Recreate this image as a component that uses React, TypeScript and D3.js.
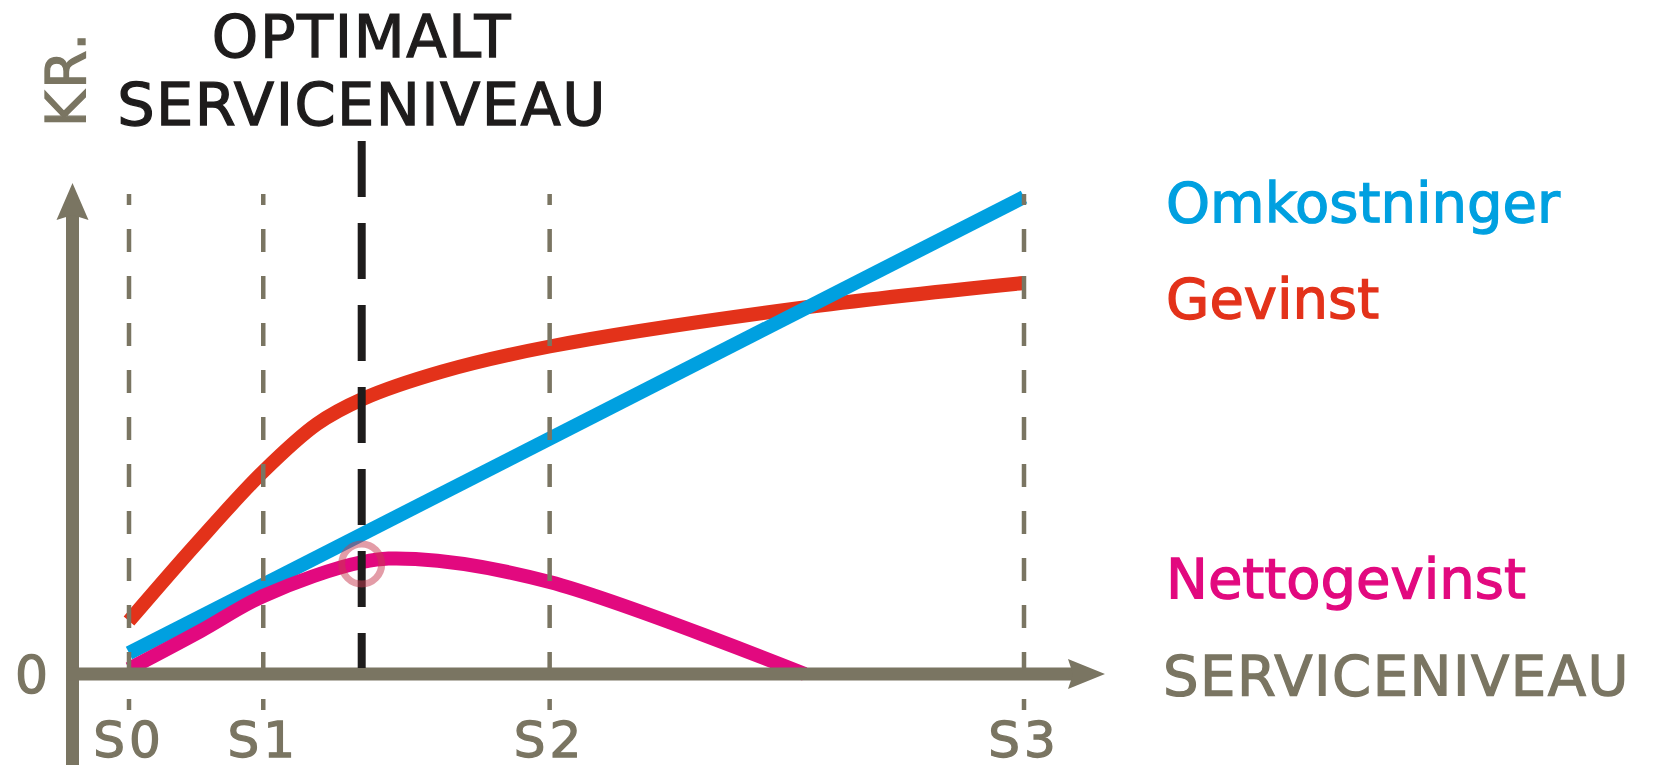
import React from "react";
import * as d3 from "d3";

// ---- data ----
const xTickLabels = ["S0", "S1", "S2", "S3"];
const xTickValues = [0, 1.5, 4.7, 10];
const optimumX = 2.6;
const optimumY = 2.2;

const omkostningerX = [0, 10];
const omkostningerY = [0.42, 9.54];

const gevinstX = [0, 0.75, 1.5, 2.1, 2.61, 3.5, 4.7, 7.5, 10];
const gevinstY = [1.06, 2.6, 4.05, 5.0, 5.5, 6.05, 6.55, 7.32, 7.82];

const nettoX = [0, 0.8, 1.5, 2.61, 3.2, 4.7, 7.55];
const nettoY = [0.1, 0.86, 1.56, 2.24, 2.3, 1.84, 0];

const legendLabels = ["Omkostninger", "Gevinst", "Nettogevinst"];
const legendValues = [9.45, 7.52, 1.92];

const W = 1661;
const H = 768;
const GRAY = "#7a7562";
const BLUE = "#00a0e0";
const RED = "#e3321a";
const MAGENTA = "#e2097f";
const DARK = "#1e1c1c";
const FONT = "'DejaVu Sans', sans-serif";

export default function App() {
  const x = d3.scaleLinear().domain([0, 10]).range([129, 1024]);
  const y = d3.scaleLinear().domain([0, 10]).range([674, 174]);

  const line = d3
    .line<[number, number]>()
    .x((d) => x(d[0]))
    .y((d) => y(d[1]))
    .curve(d3.curveCatmullRom.alpha(0.5));
  const straight = d3
    .line<[number, number]>()
    .x((d) => x(d[0]))
    .y((d) => y(d[1]));

  const zip = (a: number[], b: number[]) => a.map((v, i) => [v, b[i]] as [number, number]);

  const legendColors = [BLUE, RED, MAGENTA];

  const axisY = y(0);
  const axisX0 = 72.5;
  const bold = (c: string) => ({ fill: c, stroke: c, strokeWidth: 1.3 });

  return (
    <svg
      width={W}
      height={H}
      style={{ position: "absolute", left: 0, top: 0, background: "#fff" }}
      fontFamily={FONT}
    >
      {/* curves */}
      <path d={line(zip(gevinstX, gevinstY)) || ""} fill="none" stroke={RED} strokeWidth={14} />
      <path d={straight(zip(omkostningerX, omkostningerY)) || ""} fill="none" stroke={BLUE} strokeWidth={14} />
      <path d={line(zip(nettoX, nettoY)) || ""} fill="none" stroke={MAGENTA} strokeWidth={14} />

      {/* dashed gridlines */}
      {xTickValues.map((v, i) => (
        <line
          key={"g" + i}
          x1={x(v)}
          x2={x(v)}
          y1={y(9.6)}
          y2={y(-0.72)}
          stroke={GRAY}
          strokeWidth={4.5}
          strokeDasharray="23 24"
          strokeDashoffset={12}
        />
      ))}

      {/* axes */}
      <line x1={axisX0} x2={axisX0} y1={765} y2={212} stroke={GRAY} strokeWidth={13} />
      <path d={`M${axisX0},183 L${axisX0 + 16},220 L${axisX0},215 L${axisX0 - 16},220 Z`} fill={GRAY} />
      <line x1={66} x2={1075} y1={axisY} y2={axisY} stroke={GRAY} strokeWidth={13} />
      <path d={`M1105,${axisY} L1068,${axisY - 15} L1073,${axisY} L1068,${axisY + 15} Z`} fill={GRAY} />

      {/* optimum line */}
      <line
        x1={x(optimumX)}
        x2={x(optimumX)}
        y1={141}
        y2={axisY - 6}
        stroke={DARK}
        strokeWidth={8}
        strokeDasharray="56 26"
      />
      <circle
        cx={x(optimumX)}
        cy={y(optimumY)}
        r={20}
        fill="none"
        stroke="#c83a50"
        strokeOpacity={0.5}
        strokeWidth={7}
      />

      {/* tick labels */}
      {xTickValues.map((v, i) => (
        <text
          key={"t" + i}
          x={x(v)}
          y={757}
          textAnchor="middle"
          fontSize={50}
          letterSpacing={4}
          {...bold(GRAY)}
        >
          {xTickLabels[i]}
        </text>
      ))}
      <text x={48} y={axisY + 19} textAnchor="end" fontSize={52} {...bold(GRAY)}>
        0
      </text>

      {/* y label */}
      <text
        transform={`translate(85,79) rotate(-90)`}
        textAnchor="middle"
        fontSize={55}
        letterSpacing={2}
        {...bold(GRAY)}
      >
        KR.
      </text>

      {/* title */}
      <text x={362} y={57} textAnchor="middle" fontSize={59} letterSpacing={1.6} {...bold(DARK)}>
        OPTIMALT
      </text>
      <text x={362} y={125} textAnchor="middle" fontSize={59} letterSpacing={1.4} {...bold(DARK)}>
        SERVICENIVEAU
      </text>

      {/* legend */}
      {legendLabels.map((l, i) => (
        <text key={"l" + i} x={1166} y={y(legendValues[i]) + 20} fontSize={56} {...bold(legendColors[i])}>
          {l}
        </text>
      ))}
      <text x={1163} y={695} fontSize={56} letterSpacing={1.5} {...bold(GRAY)}>
        SERVICENIVEAU
      </text>
    </svg>
  );
}
